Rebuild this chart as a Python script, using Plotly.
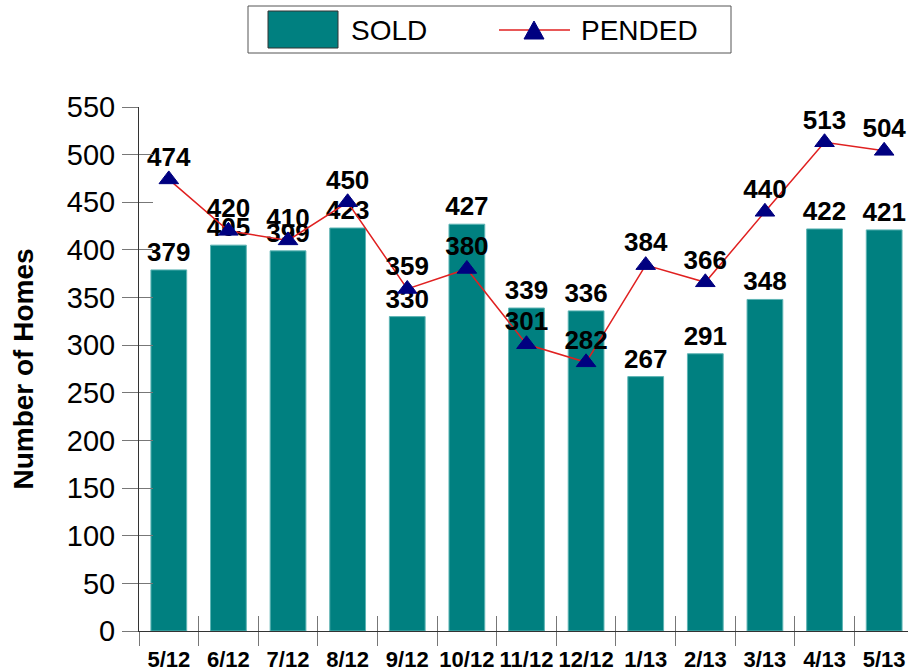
import plotly.graph_objects as go

months = ["5/12", "6/12", "7/12", "8/12", "9/12", "10/12", "11/12", "12/12",
          "1/13", "2/13", "3/13", "4/13", "5/13"]
sold = [379, 405, 399, 423, 330, 427, 339, 336, 267, 291, 348, 422, 421]
pended = [474, 420, 410, 450, 359, 380, 301, 282, 384, 366, 440, 513, 504]
y_ticks = [0, 50, 100, 150, 200, 250, 300, 350, 400, 450, 500, 550]

FONT = "Liberation Sans, Arial, sans-serif"
YR = [0, 550]
XR = [-0.5, 12.4]
TEAL = "#008080"
RED = "#e02020"
NAVY = "#000080"

W, H = 908, 671
ML, MR, MT, MB = 139, 0, 107, 40
PW, PH = W - ML - MR, H - MT - MB


def px(x):
    return (x - ML) / PW


def py(y):
    return (H - MB - y) / PH


label_font = dict(family=FONT, size=26, color="black", weight="bold")

fig = go.Figure()
fig.add_trace(go.Bar(
    x=months, y=sold, name="SOLD",
    marker=dict(color=TEAL, line=dict(color="#5fb5b5", width=1)),
    width=0.6,
    text=sold, textposition="outside", constraintext="none", cliponaxis=False,
    textfont=label_font,
))
fig.add_trace(go.Scatter(
    x=months, y=pended, name="PENDED", xaxis="x2", yaxis="y2",
    mode="lines+markers",
    line=dict(color=RED, width=1.5),
    marker=dict(symbol="triangle-up", size=17, color=NAVY,
                line=dict(color=NAVY, width=1)),
    cliponaxis=False,
))
fig.add_trace(go.Scatter(
    x=months, y=pended, name="PENDED labels", xaxis="x2", yaxis="y2",
    mode="markers+text", hoverinfo="skip",
    marker=dict(size=10, color="rgba(0,0,0,0)"),
    text=pended, textposition="top center", cliponaxis=False,
    textfont=label_font,
))

# Legend (drawn as decoration in paper coordinates)
shapes = [
    dict(type="rect", xref="paper", yref="paper",
         x0=px(248), x1=px(731), y0=py(53), y1=py(6),
         line=dict(color="#555555", width=1), fillcolor="white"),
    dict(type="rect", xref="paper", yref="paper",
         x0=px(268), x1=px(338), y0=py(48), y1=py(11),
         line=dict(color="#333333", width=1), fillcolor=TEAL),
    dict(type="line", xref="paper", yref="paper",
         x0=px(499), x1=px(570), y0=py(30), y1=py(30),
         line=dict(color=RED, width=1.5)),
    dict(type="path", xref="paper", yref="paper",
         path=f"M {px(524)},{py(39)} L {px(544)},{py(39)} L {px(534)},{py(21)} Z",
         line=dict(color=NAVY, width=1), fillcolor=NAVY),
]
annotations = [
    dict(text="SOLD", xref="paper", yref="paper", x=px(349), y=py(30),
         xanchor="left", yanchor="middle", showarrow=False,
         font=dict(family=FONT, size=28, color="black")),
    dict(text="PENDED", xref="paper", yref="paper", x=px(579), y=py(30),
         xanchor="left", yanchor="middle", showarrow=False,
         font=dict(family=FONT, size=28, color="black")),
]

fig.update_layout(
    width=W, height=H,
    margin=dict(l=ML, r=MR, t=MT, b=MB),
    paper_bgcolor="white", plot_bgcolor="white",
    font=dict(family=FONT, color="black"),
    showlegend=False,
    shapes=shapes, annotations=annotations,
    xaxis=dict(
        type="category", range=XR, categoryorder="array", categoryarray=months,
        showline=True, linecolor="#333333", linewidth=1,
        ticks="outside", tickson="boundaries", ticklen=14, tickcolor="#777777",
        tickangle=0, automargin=False, ticklabelstandoff=9,
        tickfont=dict(family=FONT, size=22, color="black", weight="bold"),
        showgrid=False, zeroline=False,
    ),
    xaxis2=dict(
        type="category", range=XR, categoryorder="array", categoryarray=months,
        overlaying="x", anchor="y", side="bottom",
        ticks="inside", tickson="boundaries", ticklen=15, tickcolor="#777777",
        showticklabels=False, showline=False, showgrid=False, zeroline=False,
    ),
    yaxis=dict(
        range=YR, tickvals=y_ticks, showline=True, linecolor="#333333", linewidth=1,
        ticks="outside", ticklen=16, tickcolor="#777777", ticklabelstandoff=1,
        automargin=False,
        tickfont=dict(family=FONT, size=29, color="black"),
        showgrid=False, zeroline=False,
        title=dict(text="Number of Homes", standoff=25,
                   font=dict(family=FONT, size=28, color="black", weight="bold")),
    ),
    yaxis2=dict(
        range=YR, tickvals=y_ticks, overlaying="y", anchor="x", side="left",
        ticks="inside", ticklen=14, tickcolor="#777777",
        showticklabels=False, showline=False, showgrid=False, zeroline=False,
    ),
)

fig.write_html("out.html", config={"displayModeBar": False},
               post_script="document.body.style.margin='0';")
